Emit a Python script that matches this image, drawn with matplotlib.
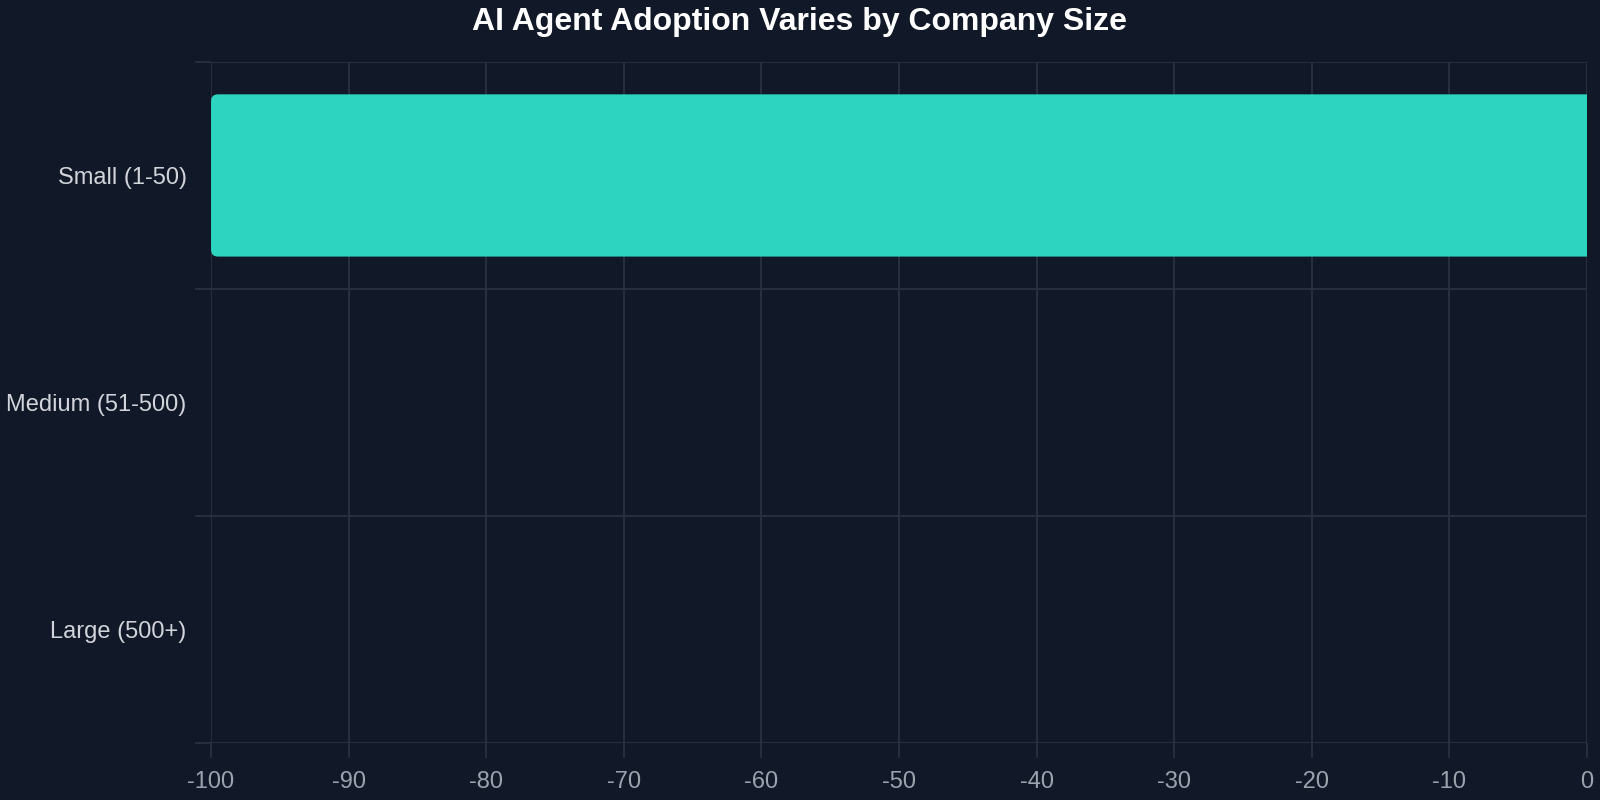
import matplotlib.pyplot as plt
from matplotlib.patches import FancyBboxPatch

plt.rcParams['font.family'] = ['Liberation Sans', 'DejaVu Sans']

# Data
categories = ["Small (1-50)", "Medium (51-500)", "Large (500+)"]
values = [-100, 0, 0]
x_ticks = [-100, -90, -80, -70, -60, -50, -40, -30, -20, -10, 0]

bg = "#111827"
grid_col = "#2a3140"
bar_col = "#2dd4bf"

fig = plt.figure(figsize=(16, 8), dpi=100, facecolor=bg)
ax = fig.add_axes([0.1319, 0.0716, 0.86, 0.8509], facecolor=bg)

ax.set_xlim(-100, 0)
ax.set_ylim(len(categories) - 0.5, -0.5)

# bars with rounded left corners (right side runs past the axis and is clipped)
bar_h = 0.715
r = 0.5
for i, v in enumerate(values):
    if v == 0:
        continue
    left = min(v, 0)
    w = abs(v)
    p = FancyBboxPatch((left, i - bar_h / 2), w + 2 * r, bar_h,
                       boxstyle=f"round,pad=0,rounding_size={r}",
                       mutation_aspect=0.0606, facecolor=bar_col,
                       edgecolor="none", zorder=3)
    ax.add_patch(p)

ax.set_xticks(x_ticks)
ax.set_xticklabels([str(t) for t in x_ticks])
ax.set_yticks(range(len(categories)))
ax.set_yticklabels(categories)
ax.set_yticks([i - 0.5 for i in range(len(categories) + 1)], minor=True)

ax.grid(True, axis='x', which='major', color=grid_col, linewidth=1.3, zorder=0)
ax.grid(True, axis='y', which='minor', color=grid_col, linewidth=1.3, zorder=0)
ax.grid(False, axis='y', which='major')

for s in ax.spines.values():
    s.set_visible(False)

ax.tick_params(axis='x', which='major', length=11, width=1.3, color=grid_col,
               labelcolor="#9ca3af", labelsize=17, pad=9.5)
ax.tick_params(axis='y', which='major', length=0, labelcolor="#d1d5db",
               labelsize=17, pad=17.5)
ax.tick_params(axis='y', which='minor', length=11.5, width=1.3, color=grid_col)

fig.suptitle("AI Agent Adoption Varies by Company Size", color="white",
             fontsize=23, fontweight='bold', y=0.972, va='center', x=0.5)

fig.savefig("out.png", dpi=100, facecolor=bg)
